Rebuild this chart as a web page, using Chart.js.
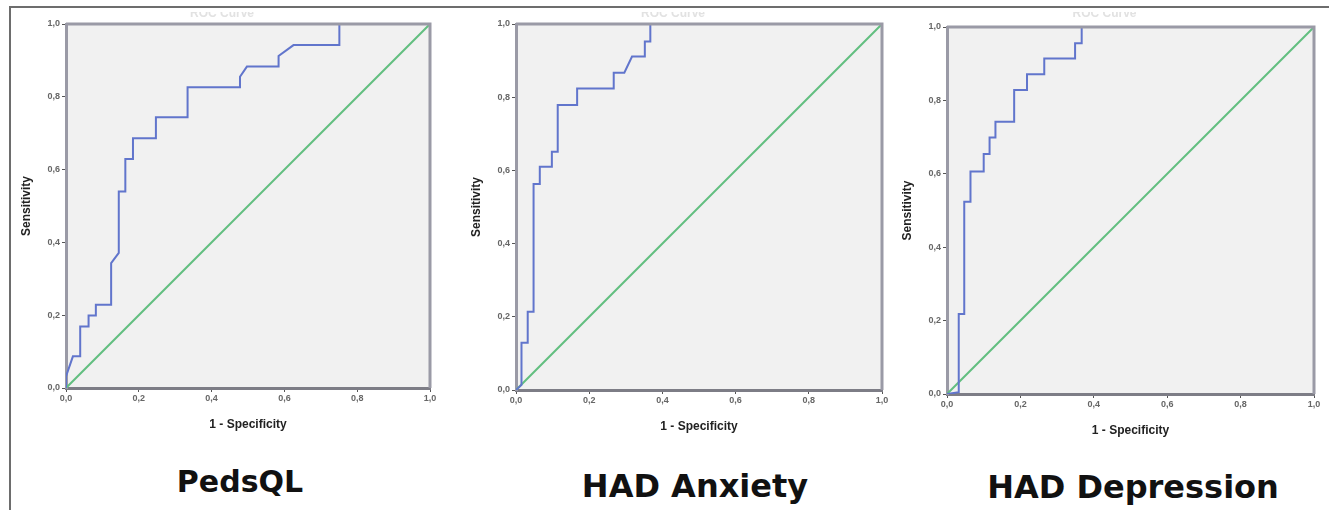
<!DOCTYPE html>
<html lang="en">
<head>
<meta charset="UTF-8">
<title>ROC Curves</title>
<script src="https://cdn.jsdelivr.net/npm/chart.js"></script>
<style>
  body { margin: 0; background: #fff; }
  #page { position: relative; width: 1329px; height: 510px; overflow: hidden; background: #fff; }
  #frame { position: absolute; left: 9px; top: 6px; width: 1340px; height: 520px;
           border-top: 2px solid #6d6d6d; border-left: 2px solid #6d6d6d; }
  .panel { position: absolute; top: 0; }
  .label { position: absolute; font-family: "DejaVu Sans", sans-serif; font-weight: 700;
           font-size: 32px; color: #111; transform: translateX(-50%); white-space: nowrap; line-height: 1; }
</style>
</head>
<body>
<div id="page">
  <div id="frame"></div>
  <canvas id="c1" class="panel"></canvas>
  <canvas id="c2" class="panel"></canvas>
  <canvas id="c3" class="panel"></canvas>
  <div class="label" id="l1" style="font-size:30px"></div>
  <div class="label" id="l2"></div>
  <div class="label" id="l3"></div>
</div>

<script>
// tick labels (SPSS style, decimal comma)
const tickValues = [0, 0.2, 0.4, 0.6, 0.8, 1.0];
const tickLabels = ['0,0', '0,2', '0,4', '0,6', '0,8', '1,0'];

// PedsQL ROC curve (1 - specificity, sensitivity)
const pedsFpr  = [0, 0, 0.019, 0.039, 0.039, 0.062, 0.062, 0.082, 0.082, 0.124, 0.124, 0.145, 0.145, 0.163, 0.163, 0.184, 0.184, 0.247, 0.247, 0.334, 0.334, 0.478, 0.478, 0.497, 0.584, 0.584, 0.625, 0.751, 0.751, 1];
const pedsSens = [0, 0.032, 0.087, 0.087, 0.169, 0.169, 0.199, 0.199, 0.229, 0.229, 0.343, 0.371, 0.540, 0.540, 0.629, 0.629, 0.686, 0.686, 0.744, 0.744, 0.826, 0.826, 0.855, 0.883, 0.883, 0.912, 0.942, 0.942, 1, 1];

// HAD Anxiety ROC curve
const anxFpr  = [0, 0.015, 0.015, 0.032, 0.032, 0.048, 0.048, 0.065, 0.065, 0.098, 0.098, 0.114, 0.114, 0.167, 0.167, 0.267, 0.267, 0.296, 0.317, 0.352, 0.352, 0.367, 0.367, 1];
const anxSens = [0, 0.014, 0.129, 0.129, 0.214, 0.214, 0.563, 0.563, 0.610, 0.610, 0.651, 0.651, 0.779, 0.779, 0.824, 0.824, 0.867, 0.867, 0.911, 0.911, 0.952, 0.952, 1, 1];

// HAD Depression ROC curve
const depFpr  = [0, 0.032, 0.032, 0.047, 0.047, 0.064, 0.064, 0.100, 0.100, 0.116, 0.116, 0.132, 0.132, 0.183, 0.183, 0.218, 0.218, 0.265, 0.265, 0.349, 0.349, 0.367, 0.367, 1];
const depSens = [0, 0.005, 0.218, 0.218, 0.524, 0.524, 0.606, 0.606, 0.654, 0.654, 0.699, 0.699, 0.742, 0.742, 0.828, 0.828, 0.871, 0.871, 0.914, 0.914, 0.956, 0.956, 1, 1];

// reference diagonal
const refFpr  = [0, 1];
const refSens = [0, 1];

const panelTitles = ['PedsQL', 'HAD Anxiety', 'HAD Depression'];

const BLUE = '#6175cc';
const GREEN = '#62bf80';
const FRAME = '#9a9aa6';

function toPoints(xs, ys) {
    return xs.map((x, i) => ({ x: x, y: ys[i] }));
}

// light grey plot area, frame and the faint (cropped) "ROC Curve" heading
const plotDecor = {
    id: 'plotDecor',
    beforeDraw(chart) {
        const a = chart.chartArea, ctx = chart.ctx;
        ctx.save();
        ctx.fillStyle = '#f1f1f1';
        ctx.fillRect(a.left, a.top, a.right - a.left, a.bottom - a.top);
        // faint heading, mostly cut off by the top edge
        ctx.beginPath();
        ctx.rect(0, 12, chart.width, 10);
        ctx.clip();
        ctx.fillStyle = '#e2e2e2';
        ctx.font = 'bold 12px Arial';
        ctx.textAlign = 'center';
        ctx.textBaseline = 'alphabetic';
        ctx.fillText('ROC Curve', (a.left + a.right) / 2 - 26, 17);
        ctx.restore();
    },
    afterDatasetsDraw(chart) {
        const a = chart.chartArea, ctx = chart.ctx;
        ctx.save();
        ctx.strokeStyle = FRAME;
        ctx.lineWidth = 3;
        ctx.beginPath();
        ctx.moveTo(a.left, a.top);
        ctx.lineTo(a.right, a.top);
        ctx.lineTo(a.right, a.bottom);
        ctx.stroke();
        ctx.restore();
    }
};

function makePanel(id, left, plotTop, width, height, fpr, sens) {
    const canvas = document.getElementById(id);
    canvas.width = width;
    canvas.height = height;
    canvas.style.left = left + 'px';
    canvas.style.width = width + 'px';
    canvas.style.height = height + 'px';

    new Chart(canvas.getContext('2d'), {
        type: 'scatter',
        data: {
            datasets: [
                {
                    data: toPoints(fpr, sens),
                    showLine: true,
                    borderColor: BLUE,
                    borderWidth: 2,
                    pointRadius: 0,
                    fill: false,
                    tension: 0
                },
                {
                    data: toPoints(refFpr, refSens),
                    showLine: true,
                    borderColor: GREEN,
                    borderWidth: 2,
                    pointRadius: 0,
                    fill: false
                }
            ]
        },
        options: {
            responsive: false,
            animation: false,
            devicePixelRatio: 1,
            layout: { padding: { top: plotTop, right: 8, left: 0, bottom: 0 } },
            plugins: { legend: { display: false }, tooltip: { enabled: false } },
            scales: {
                x: {
                    type: 'linear', min: 0, max: 1,
                    afterBuildTicks: (s) => { s.ticks = tickValues.map(v => ({ value: v })); },
                    afterFit: (s) => { s.height = 48; },
                    grid: { drawOnChartArea: false, drawTicks: true, tickLength: 4, color: '#555' },
                    border: { display: true, color: '#7d7d86', width: 3 },
                    ticks: {
                        padding: 1, maxRotation: 0, color: '#666',
                        font: { family: 'Arial', size: 9, weight: 'bold' },
                        callback: (v, i) => tickLabels[i]
                    },
                    title: {
                        display: true, text: '1 - Specificity', color: '#222',
                        font: { family: 'Arial', size: 12, weight: 'bold' },
                        padding: { top: 0, bottom: 4 }
                    }
                },
                y: {
                    type: 'linear', min: 0, max: 1,
                    afterBuildTicks: (s) => { s.ticks = tickValues.map(v => ({ value: v })); },
                    afterFit: (s) => { s.width = 56; },
                    grid: { drawOnChartArea: false, drawTicks: true, tickLength: 4, color: '#555' },
                    border: { display: true, color: FRAME, width: 3 },
                    ticks: {
                        padding: 2, color: '#666',
                        font: { family: 'Arial', size: 9, weight: 'bold' },
                        callback: (v, i) => tickLabels[i]
                    },
                    title: {
                        display: true, text: 'Sensitivity', color: '#222',
                        font: { family: 'Arial', size: 12, weight: 'bold' },
                        padding: { top: 9, bottom: 0 }
                    }
                }
            }
        },
        plugins: [plotDecor]
    });
}

makePanel('c1', 10, 24, 428, 436, pedsFpr, pedsSens);
makePanel('c2', 460, 24, 430, 438, anxFpr, anxSens);
makePanel('c3', 891, 27, 431, 442, depFpr, depSens);

// big captions under each panel
const labelPos = [[240, 467], [695, 470], [1133, 471]];
panelTitles.forEach((t, i) => {
    const el = document.getElementById('l' + (i + 1));
    el.textContent = t;
    el.style.left = labelPos[i][0] + 'px';
    el.style.top = labelPos[i][1] + 'px';
});
</script>
</body>
</html>
